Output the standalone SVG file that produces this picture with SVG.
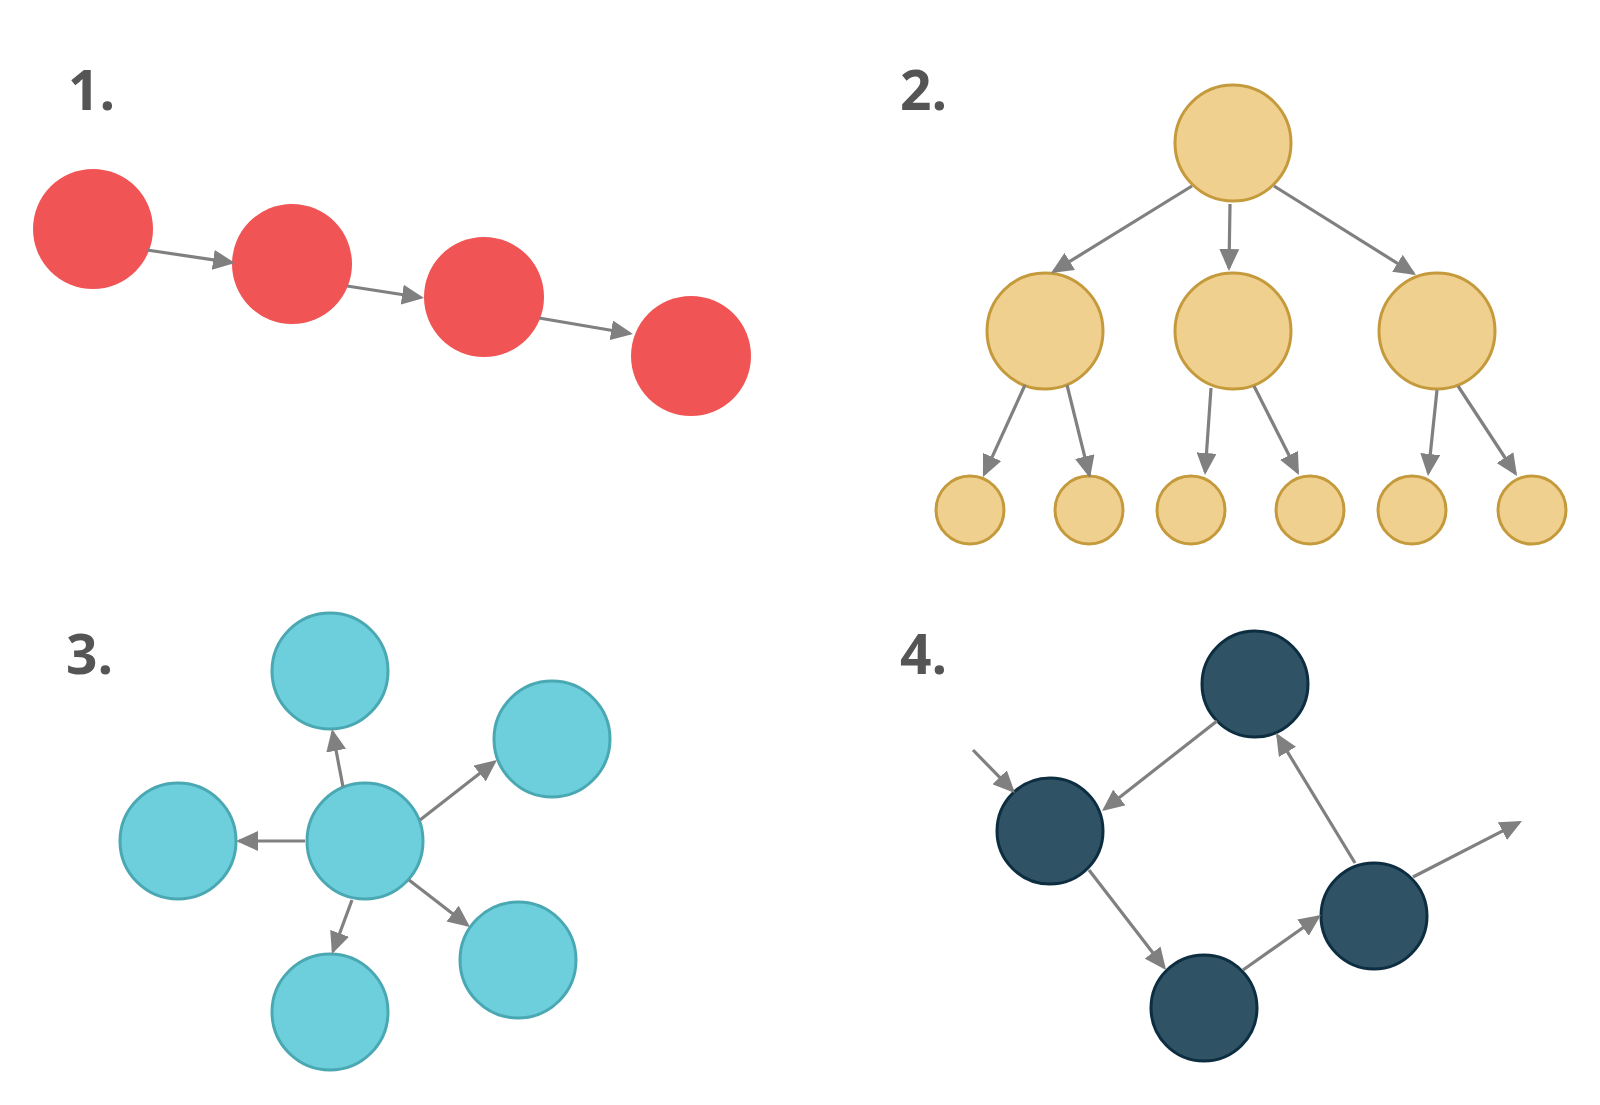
<svg xmlns="http://www.w3.org/2000/svg" width="1600" height="1105" viewBox="0 0 1600 1105">
<style>
.lbl{font-family:"Open Sans","Liberation Sans",sans-serif;font-weight:700;font-size:55px;fill:#555555}
.red{fill:#f05454}
.yel{fill:#f0d08e;stroke:#c49a3c;stroke-width:3}
.blu{fill:#6ccfdb;stroke:#4aa8b3;stroke-width:3}
.dk{fill:#2f5264;stroke:#0d2d40;stroke-width:3}
#connectors line{stroke:#808080;stroke-width:3.2;marker-end:url(#arr)}
</style>
<defs>
<marker id="arr" markerUnits="userSpaceOnUse" markerWidth="22" markerHeight="20" refX="19" refY="10" orient="auto">
<path d="M0,0 L22,10 L0,20 z" fill="#808080"/>
</marker>
</defs>
<rect width="1600" height="1105" fill="#ffffff"/>
<text class="lbl" x="68" y="110">1.</text>
<text class="lbl" x="900" y="110">2.</text>
<text class="lbl" x="66" y="674">3.</text>
<text class="lbl" x="900" y="674">4.</text>
<g id="r1"><circle class="red" cx="93" cy="229" r="60"/></g>
<g id="r2"><circle class="red" cx="292" cy="264" r="60"/></g>
<g id="r3"><circle class="red" cx="484" cy="297" r="60"/></g>
<g id="r4"><circle class="red" cx="691" cy="356" r="60"/></g>
<g id="y0"><circle class="yel" cx="1233" cy="143" r="58"/></g>
<g id="y1"><circle class="yel" cx="1045" cy="331" r="58"/></g>
<g id="y2"><circle class="yel" cx="1233" cy="331" r="58"/></g>
<g id="y3"><circle class="yel" cx="1437" cy="331" r="58"/></g>
<g id="y4"><circle class="yel" cx="970" cy="510" r="34"/></g>
<g id="y5"><circle class="yel" cx="1089" cy="510" r="34"/></g>
<g id="y6"><circle class="yel" cx="1191" cy="510" r="34"/></g>
<g id="y7"><circle class="yel" cx="1310" cy="510" r="34"/></g>
<g id="y8"><circle class="yel" cx="1412" cy="510" r="34"/></g>
<g id="y9"><circle class="yel" cx="1532" cy="510" r="34"/></g>
<g id="b0"><circle class="blu" cx="365" cy="841" r="58"/></g>
<g id="b1"><circle class="blu" cx="330" cy="671" r="58"/></g>
<g id="b2"><circle class="blu" cx="552" cy="739" r="58"/></g>
<g id="b3"><circle class="blu" cx="178" cy="841" r="58"/></g>
<g id="b4"><circle class="blu" cx="330" cy="1012" r="58"/></g>
<g id="b5"><circle class="blu" cx="518" cy="960" r="58"/></g>
<g id="d1"><circle class="dk" cx="1255" cy="684" r="53"/></g>
<g id="d2"><circle class="dk" cx="1050" cy="831" r="53"/></g>
<g id="d3"><circle class="dk" cx="1204" cy="1008" r="53"/></g>
<g id="d4"><circle class="dk" cx="1374" cy="916" r="53"/></g>
<g id="connectors">
<line x1="147" y1="250" x2="232" y2="262.6"/>
<line x1="347" y1="286" x2="421" y2="297.5"/>
<line x1="539" y1="318" x2="630" y2="333.5"/>
<line x1="1192" y1="186" x2="1053.6" y2="271.4"/>
<line x1="1230" y1="204" x2="1229" y2="268"/>
<line x1="1274" y1="186" x2="1413.5" y2="273.4"/>
<line x1="1025" y1="385" x2="984.2" y2="474.3"/>
<line x1="1067" y1="385" x2="1089.3" y2="475.1"/>
<line x1="1211" y1="388" x2="1205.2" y2="472"/>
<line x1="1254" y1="386" x2="1297.6" y2="472.3"/>
<line x1="1437" y1="390" x2="1428.3" y2="473"/>
<line x1="1458" y1="386" x2="1515.4" y2="473.5"/>
<line x1="343" y1="787" x2="332.6" y2="732"/>
<line x1="420" y1="820" x2="494.6" y2="761.8"/>
<line x1="305" y1="841" x2="239" y2="841"/>
<line x1="352" y1="900" x2="333" y2="951.2"/>
<line x1="409" y1="880" x2="467.6" y2="925.2"/>
<line x1="1217" y1="721" x2="1104.4" y2="809.2"/>
<line x1="1089" y1="870" x2="1164.2" y2="967.6"/>
<line x1="1243" y1="970" x2="1318.5" y2="916.7"/>
<line x1="1355" y1="863" x2="1277.6" y2="735.6"/>
<line x1="973" y1="750" x2="1012.9" y2="790.9"/>
<line x1="1413" y1="877" x2="1519.3" y2="822.4"/>
</g>
</svg>
